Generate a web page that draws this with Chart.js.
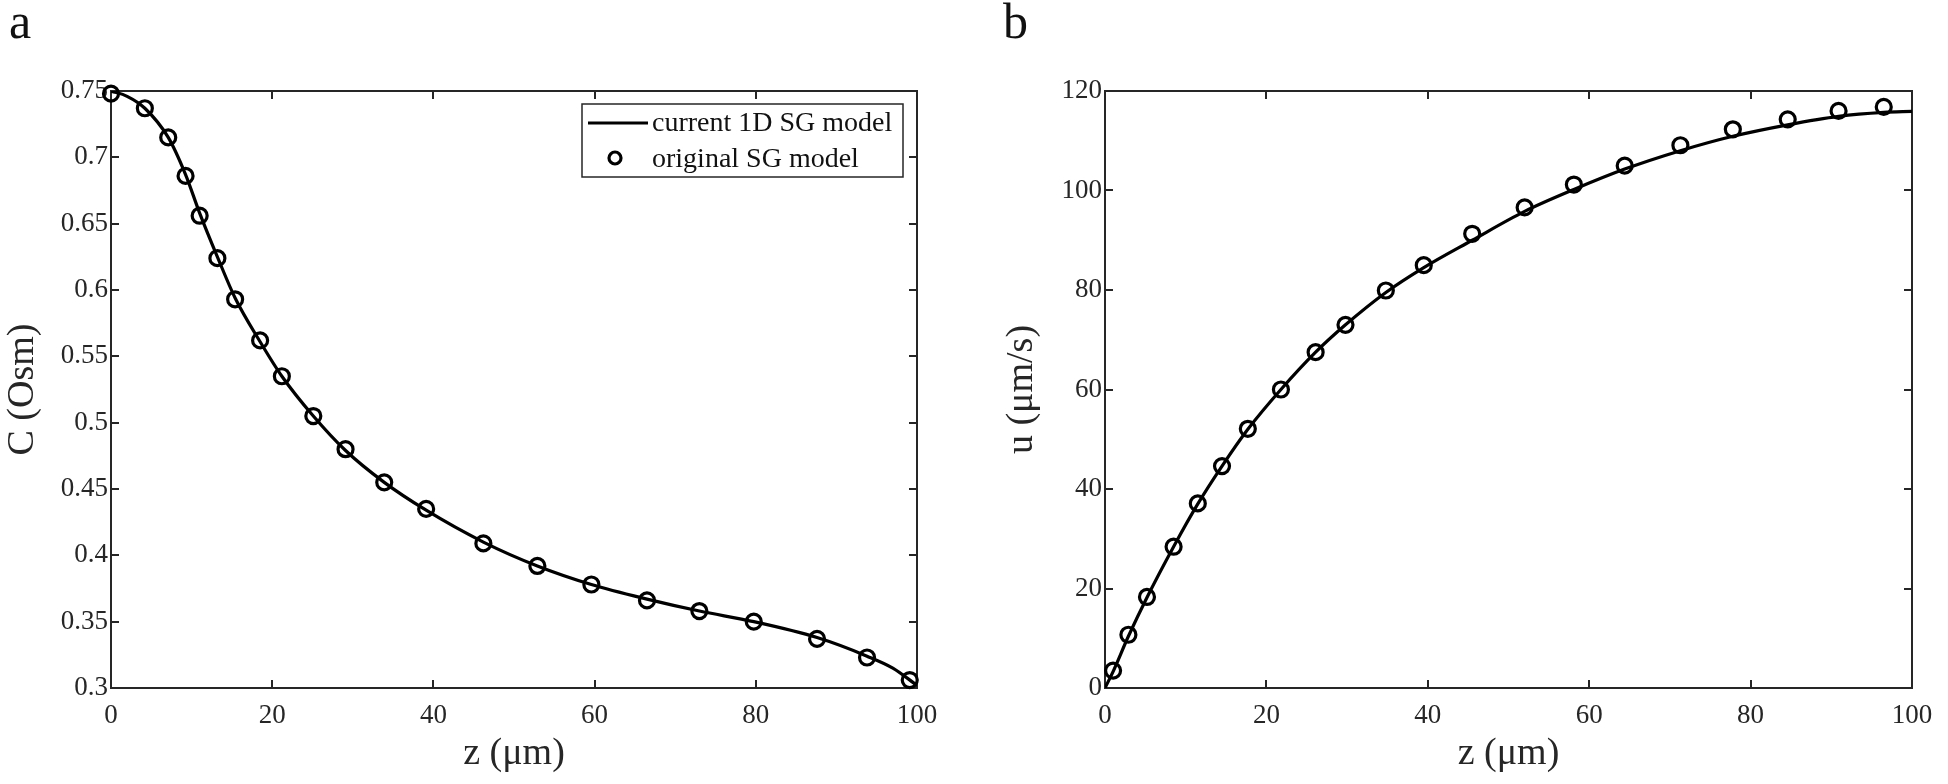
<!DOCTYPE html>
<html>
<head>
<meta charset="utf-8">
<script src="https://cdn.jsdelivr.net/npm/chart.js@4.4.0/dist/chart.umd.min.js"></script>
<style>
  html, body { margin: 0; padding: 0; background: #fff; }
  body { width: 1948px; height: 784px; position: relative; overflow: hidden; font-family: "Liberation Serif", "Times New Roman", serif; }
  .panel { position: absolute; top: 0; width: 974px; height: 784px; }
  .etiqueta { position: absolute; font-size: 50px; color: #111; line-height: 1; }
</style>
</head>
<body>
<div class="etiqueta" style="left:9px; top:-4px">a</div>
<div class="etiqueta" style="left:1003px; top:-4px">b</div>
<div class="panel" style="left:0"><canvas id="graficaC"></canvas></div>
<div class="panel" style="left:974px"><canvas id="graficaU"></canvas></div>

<script>
// Panel a: concentracion
const zOriginalC = [0, 4.2, 7.1, 9.25, 11.0, 13.2, 15.4, 18.5, 21.2, 25.1, 29.1, 33.9, 39.1, 46.2, 52.9, 59.6, 66.5, 73.0, 79.75, 87.6, 93.8, 99.1];
const cOriginal  = [0.748, 0.737, 0.715, 0.686, 0.656, 0.624, 0.593, 0.562, 0.535, 0.505, 0.480, 0.455, 0.435, 0.409, 0.392, 0.378, 0.366, 0.358, 0.350, 0.337, 0.323, 0.306];
const zActualC = [0, 2, 4.2, 7.1, 9.25, 11.0, 13.2, 15.4, 18.5, 21.2, 25.1, 29.1, 33.9, 39.1, 46.2, 52.9, 59.6, 66.5, 73.0, 79.75, 87.6, 93.8, 97, 100];
const cActual  = [0.750, 0.746, 0.737, 0.715, 0.687, 0.658, 0.625, 0.594, 0.561, 0.535, 0.505, 0.479, 0.455, 0.434, 0.410, 0.392, 0.378, 0.367, 0.358, 0.350, 0.338, 0.324, 0.315, 0.302];

// Panel b: velocidad
const zOriginalU = [1.0, 2.9, 5.2, 8.5, 11.5, 14.5, 17.7, 21.8, 26.1, 29.8, 34.8, 39.5, 45.5, 52.0, 58.1, 64.4, 71.3, 77.8, 84.6, 90.9, 96.5];
const uOriginal  = [3.5, 10.7, 18.3, 28.4, 37.1, 44.6, 52.1, 60.0, 67.5, 73.0, 79.9, 85.0, 91.3, 96.6, 101.2, 105.0, 109.1, 112.3, 114.3, 116.0, 116.8];
const zActualU = [0, 1.0, 2.9, 5.2, 8.5, 11.5, 14.5, 17.7, 21.8, 26.1, 29.8, 34.8, 39.5, 45.5, 52.0, 58.1, 64.4, 71.3, 77.8, 84.6, 90.9, 96.5, 100];
const uActual  = [0, 3.3, 10.4, 18.2, 28.4, 37.0, 44.6, 52.0, 60.0, 67.5, 73.0, 79.5, 84.5, 90.0, 95.8, 100.2, 104.3, 108.0, 110.9, 113.2, 114.9, 115.7, 115.9];

const ticksZ = [0, 20, 40, 60, 80, 100];
const ticksC = [0.3, 0.35, 0.4, 0.45, 0.5, 0.55, 0.6, 0.65, 0.7, 0.75];
const ticksU = [0, 20, 40, 60, 80, 100, 120];

const etiquetasLeyenda = ['current 1D SG model', 'original SG model'];

const FUENTE = '"Liberation Serif", "Times New Roman", serif';
const GRIS = '#262626';

const puntos = (xs, ys) => xs.map((x, i) => ({ x, y: ys[i] }));

// caja de ejes estilo matlab con marcas hacia dentro
const marcoMatlab = {
  id: 'marcoMatlab',
  beforeDatasetsDraw(chart) {
    const { ctx, chartArea: a, scales: { x, y } } = chart;
    const largo = 8;
    ctx.save();
    ctx.strokeStyle = GRIS;
    ctx.lineWidth = 2;
    ctx.strokeRect(a.left, a.top, a.right - a.left, a.bottom - a.top);
    ctx.beginPath();
    x.ticks.forEach(t => {
      const px = Math.round(x.getPixelForValue(t.value));
      ctx.moveTo(px, a.bottom); ctx.lineTo(px, a.bottom - largo);
      ctx.moveTo(px, a.top); ctx.lineTo(px, a.top + largo);
    });
    y.ticks.forEach(t => {
      const py = Math.round(y.getPixelForValue(t.value));
      ctx.moveTo(a.left, py); ctx.lineTo(a.left + largo, py);
      ctx.moveTo(a.right, py); ctx.lineTo(a.right - largo, py);
    });
    ctx.stroke();
    ctx.restore();
  }
};

// leyenda dentro del area de la grafica (esquina superior derecha)
const leyendaMatlab = {
  id: 'leyendaMatlab',
  afterDraw(chart, args, opts) {
    if (!opts.mostrar) return;
    const { ctx, chartArea: a } = chart;
    const ancho = 321, alto = 73;
    const x0 = a.right - 14 - ancho;
    const y0 = a.top + 13;
    ctx.save();
    ctx.fillStyle = '#fff';
    ctx.fillRect(x0, y0, ancho, alto);
    ctx.strokeStyle = GRIS;
    ctx.lineWidth = 1.5;
    ctx.strokeRect(x0, y0, ancho, alto);

    const dsLinea = chart.data.datasets[0];
    const dsPuntos = chart.data.datasets[1];
    ctx.strokeStyle = dsLinea.borderColor;
    ctx.lineWidth = dsLinea.borderWidth;
    ctx.beginPath();
    ctx.moveTo(x0 + 6, y0 + 19);
    ctx.lineTo(x0 + 66, y0 + 19);
    ctx.stroke();

    ctx.strokeStyle = dsPuntos.pointBorderColor;
    ctx.lineWidth = dsPuntos.pointBorderWidth;
    ctx.beginPath();
    ctx.arc(x0 + 33, y0 + 54, 6, 0, Math.PI * 2);
    ctx.stroke();

    ctx.fillStyle = '#111';
    ctx.font = '28px ' + FUENTE;
    ctx.textBaseline = 'alphabetic';
    ctx.fillText(dsLinea.label, x0 + 70, y0 + 27);
    ctx.fillText(dsPuntos.label, x0 + 70, y0 + 63);
    ctx.restore();
  }
};

function crearGrafica(id, cfg) {
  return new Chart(document.getElementById(id), {
    type: 'line',
    data: {
      datasets: [
        {
          label: etiquetasLeyenda[0],
          data: cfg.linea,
          borderColor: '#000',
          borderWidth: 3.2,
          pointRadius: 0,
          cubicInterpolationMode: 'monotone',
          fill: false
        },
        {
          label: etiquetasLeyenda[1],
          data: cfg.circulos,
          showLine: false,
          pointStyle: 'circle',
          pointRadius: 7.5,
          pointBorderWidth: 3.2,
          pointBorderColor: '#000',
          pointBackgroundColor: 'rgba(0,0,0,0)',
          clip: false
        }
      ]
    },
    options: {
      responsive: true,
      maintainAspectRatio: false,
      animation: false,
      layout: { padding: { top: 91, right: cfg.derecha, left: 0, bottom: 0 } },
      plugins: {
        legend: { display: false },
        tooltip: { enabled: false },
        leyendaMatlab: { mostrar: cfg.leyenda }
      },
      scales: {
        x: {
          type: 'linear', min: 0, max: 100,
          afterBuildTicks: s => { s.ticks = ticksZ.map(v => ({ value: v })); },
          afterFit: s => { s.height = 96; },
          grid: { display: false, drawTicks: false },
          border: { display: false },
          ticks: { color: GRIS, font: { family: FUENTE, size: 27 }, padding: 12, maxRotation: 0, autoSkip: false, callback: v => String(v) },
          title: { display: true, text: 'z (μm)', color: GRIS, font: { family: FUENTE, size: 38 }, padding: { top: 0, bottom: 7 } }
        },
        y: {
          type: 'linear', min: cfg.yTicks[0], max: cfg.yTicks[cfg.yTicks.length - 1],
          afterBuildTicks: s => { s.ticks = cfg.yTicks.map(v => ({ value: v })); },
          afterFit: s => { s.width = cfg.anchoY; },
          grid: { display: false, drawTicks: false },
          border: { display: false },
          ticks: { color: GRIS, font: { family: FUENTE, size: 27 }, padding: 3, autoSkip: false, callback: v => String(v) },
          title: { display: true, text: cfg.tituloY, color: GRIS, font: { family: FUENTE, size: 38 }, padding: { top: cfg.padTitulo, bottom: 0 } }
        }
      }
    },
    plugins: [marcoMatlab, leyendaMatlab]
  });
}

crearGrafica('graficaC', {
  linea: puntos(zActualC, cActual),
  circulos: puntos(zOriginalC, cOriginal),
  yTicks: ticksC,
  tituloY: 'C (Osm)',
  anchoY: 111,
  derecha: 57,
  padTitulo: 0,
  leyenda: true
});

crearGrafica('graficaU', {
  linea: puntos(zActualU, uActual),
  circulos: puntos(zOriginalU, uOriginal),
  yTicks: ticksU,
  tituloY: 'u (μm/s)',
  anchoY: 131,
  derecha: 36,
  padTitulo: 25,
  leyenda: false
});
</script>
</body>
</html>
